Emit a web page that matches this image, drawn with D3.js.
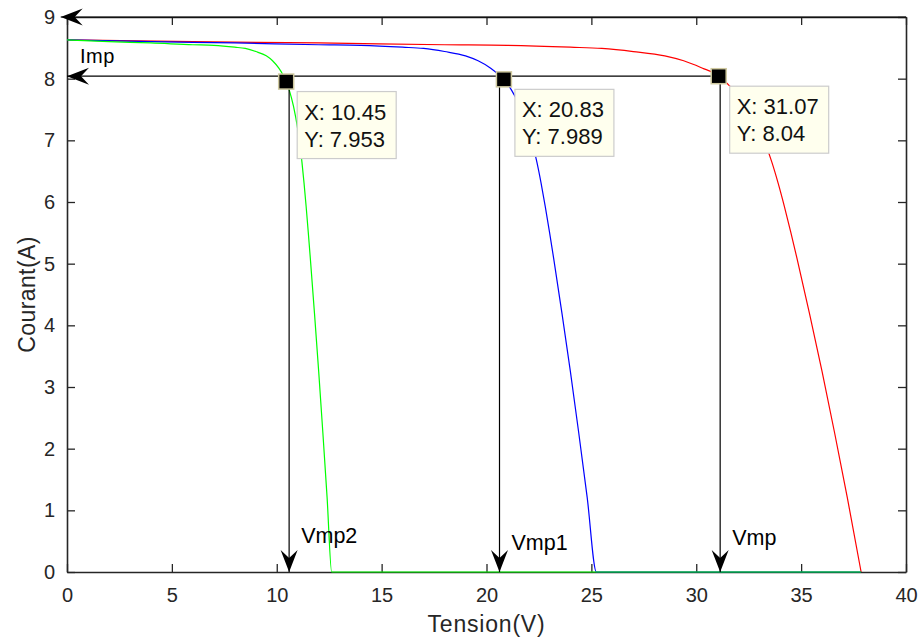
<!DOCTYPE html>
<html>
<head>
<meta charset="utf-8">
<script src="https://cdn.jsdelivr.net/npm/d3@7"></script>
<style>
  html, body { margin: 0; padding: 0; background: #fff; }
  svg { display: block; font-family: "Liberation Sans", Arial, Helvetica, sans-serif; }
</style>
</head>
<body>
<svg id="chart" width="921" height="642"></svg>
<script>
// I-V characteristics: one, two and three modules in series
const voltGreen = [0, 2, 4, 6, 7, 8, 8.5, 9, 9.5, 9.8, 10.1, 10.3, 10.45, 10.6, 10.8, 11.0, 11.1, 11.2, 11.3, 11.4, 11.5, 11.6, 11.8, 12.0, 12.2, 12.4, 12.62, 37.86];
const currGreen = [8.63, 8.60, 8.58, 8.55, 8.54, 8.51, 8.49, 8.44, 8.37, 8.29, 8.17, 8.06, 7.953, 7.81, 7.55, 7.18, 6.94, 6.65, 6.31, 5.93, 5.52, 5.09, 4.19, 3.25, 2.25, 1.21, 0, 0];

const voltBlue = [0, 4, 8, 12, 14, 16, 17, 18, 19, 19.6, 20.2, 20.6, 20.83, 21.2, 21.6, 22.0, 22.2, 22.4, 22.6, 22.8, 23.0, 23.2, 23.6, 24.0, 24.4, 24.8, 25.24, 37.86];
const currBlue = [8.63, 8.60, 8.58, 8.55, 8.54, 8.51, 8.49, 8.44, 8.37, 8.29, 8.17, 8.06, 7.989, 7.81, 7.55, 7.18, 6.94, 6.65, 6.31, 5.93, 5.52, 5.09, 4.19, 3.25, 2.25, 1.21, 0, 0];

const voltRed = [0, 6, 12, 18, 21, 24, 25.5, 27, 28.5, 29.4, 30.3, 30.9, 31.07, 31.8, 32.4, 33.0, 33.3, 33.6, 33.9, 34.2, 34.5, 34.8, 35.4, 36.0, 36.6, 37.2, 37.86];
const currRed = [8.63, 8.60, 8.58, 8.55, 8.54, 8.51, 8.49, 8.44, 8.37, 8.29, 8.17, 8.08, 8.04, 7.81, 7.55, 7.18, 6.94, 6.65, 6.31, 5.93, 5.52, 5.09, 4.19, 3.25, 2.25, 1.21, 0];

// maximum power points (data tips)
const mppX = [10.45, 20.83, 31.07];
const mppY = [7.953, 7.989, 8.04];

// vertical annotation arrows down to the voltage axis
const vmpArrowX = [10.59, 20.62, 31.14];
const vmpLabels = ["Vmp2", "Vmp1", "Vmp"];

const xTicks = [0, 5, 10, 15, 20, 25, 30, 35, 40];
const yTicks = [0, 1, 2, 3, 4, 5, 6, 7, 8, 9];

const svg = d3.select("#chart");
const plotLeft = 67, plotRight = 906, plotTop = 17, plotBottom = 572;

const x = d3.scaleLinear().domain([0, 40]).range([plotLeft, plotRight]);
const y = d3.scaleLinear().domain([0, 9]).range([plotBottom, plotTop]);

const axisColor = "#262626";

function styleAxis(g) {
  g.selectAll(".domain").attr("stroke", axisColor).attr("stroke-width", 1.6);
  g.selectAll(".tick line").attr("stroke", axisColor).attr("stroke-width", 1.3);
  g.selectAll(".tick text").attr("fill", axisColor).attr("font-size", 20)
    .attr("font-family", "Liberation Sans, Arial, sans-serif");
}

// box axes with inward ticks
svg.append("g").attr("transform", `translate(0,${plotBottom})`)
  .call(d3.axisBottom(x).tickValues(xTicks).tickSizeInner(-8).tickSizeOuter(0).tickPadding(16))
  .call(styleAxis);
svg.append("g").attr("transform", `translate(${plotLeft},0)`)
  .call(d3.axisLeft(y).tickValues(yTicks).tickSizeInner(-8).tickSizeOuter(0).tickPadding(12))
  .call(styleAxis);
svg.append("g").attr("transform", `translate(0,${plotTop})`)
  .call(d3.axisTop(x).tickValues(xTicks).tickSizeInner(-8).tickSizeOuter(0).tickFormat(""))
  .call(styleAxis);
svg.append("g").attr("transform", `translate(${plotRight},0)`)
  .call(d3.axisRight(y).tickValues(yTicks).tickSizeInner(-8).tickSizeOuter(0).tickFormat(""))
  .call(styleAxis);

// axis titles
svg.append("text").attr("x", (plotLeft + plotRight) / 2).attr("y", 632)
  .attr("text-anchor", "middle").attr("font-size", 23).attr("letter-spacing", 0.8)
  .attr("fill", axisColor).text("Tension(V)");
svg.append("text").attr("transform", `translate(35,${(plotTop + plotBottom) / 2}) rotate(-90)`)
  .attr("text-anchor", "middle").attr("font-size", 23).attr("letter-spacing", 0.4)
  .attr("fill", axisColor).text("Courant(A)");

// curves
const line = d3.line().x(d => x(d[0])).y(d => y(d[1])).curve(d3.curveMonotoneX);
const series = [
  { v: voltRed, i: currRed, color: "#ff0000" },
  { v: voltBlue, i: currBlue, color: "#0000ff" },
  { v: voltGreen, i: currGreen, color: "#00ff00" }
];
series.forEach(s => {
  svg.append("path")
    .datum(d3.zip(s.v, s.i))
    .attr("d", line)
    .attr("fill", "none")
    .attr("stroke", s.color)
    .attr("stroke-width", 1.2);
});

// arrow head pointing along +x with tip at the origin
const headPath = "M0,0 L-22,-8.5 L-14,0 L-22,8.5 Z";
function arrow(x1, y1, x2, y2) {
  svg.append("line").attr("x1", x1).attr("y1", y1).attr("x2", x2).attr("y2", y2)
    .attr("stroke", "#000").attr("stroke-width", 1.2);
  const ang = Math.atan2(y2 - y1, x2 - x1) * 180 / Math.PI;
  svg.append("path").attr("d", headPath)
    .attr("transform", `translate(${x2},${y2}) rotate(${ang})`)
    .attr("fill", "#000");
}

// arrow along the top edge (9 A) and the Imp arrow
arrow(x(40), y(9), x(-0.3), y(9));
arrow(x(mppX[2]), y(mppY[2]), x(0), y(mppY[2]));
svg.append("text").attr("x", 80).attr("y", 63).attr("font-size", 20).attr("letter-spacing", 0.5)
  .attr("fill", "#000").text("Imp");

// Vmp arrows
vmpArrowX.forEach((vx, k) => {
  arrow(x(vx), y(mppY[k]), x(vx), y(0));
});
const vmpBaselines = [543, 550, 545];
vmpLabels.forEach((t, k) => {
  svg.append("text").attr("x", x(vmpArrowX[k]) + 12).attr("y", vmpBaselines[k])
    .attr("font-size", 21.5).attr("fill", "#000").text(t);
});

// markers
mppX.forEach((mx, k) => {
  svg.append("rect")
    .attr("x", x(mx) - 7.5).attr("y", y(mppY[k]) - 7.5)
    .attr("width", 15).attr("height", 15)
    .attr("fill", "#000").attr("stroke", "#cfc9a0").attr("stroke-width", 1.5);
});

// data tips
mppX.forEach((mx, k) => {
  const bx = x(mx) + 11, by = y(mppY[k]) + 10;
  const g = svg.append("g").attr("transform", `translate(${bx},${by})`);
  g.append("rect").attr("width", 99).attr("height", 67)
    .attr("fill", "#ffffee").attr("stroke", "#cccccc").attr("stroke-width", 1.2);
  g.append("text").attr("x", 7).attr("y", 28).attr("font-size", 22).attr("fill", "#111")
    .text("X: " + mx);
  g.append("text").attr("x", 7).attr("y", 55).attr("font-size", 22).attr("fill", "#111")
    .text("Y: " + mppY[k]);
});
</script>
</body>
</html>
